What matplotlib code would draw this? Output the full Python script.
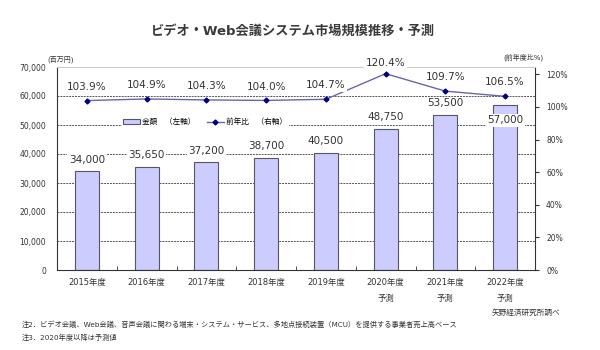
import matplotlib
matplotlib.use("Agg")
import matplotlib.pyplot as plt
import numpy as np

plt.rcParams['font.family'] = ['DejaVu Sans', 'Noto Sans CJK JP']

categories = ["2015年度", "2016年度", "2017年度", "2018年度", "2019年度",
              "2020年度\n予測", "2021年度\n予測", "2022年度\n予測"]
amounts = [34000, 35650, 37200, 38700, 40500, 48750, 53500, 57000]
yoy = [103.9, 104.9, 104.3, 104.0, 104.7, 120.4, 109.7, 106.5]
left_ticks = [0, 10000, 20000, 30000, 40000, 50000, 60000, 70000]
right_ticks = [0, 20, 40, 60, 80, 100, 120]

fig = plt.figure(figsize=(6, 3.5), dpi=100)
ax = fig.add_axes([57/600, 80/350, 478/600, 203/350])
x = np.arange(len(categories))

ax.set_xlim(-0.5, len(categories) - 0.5)
ax.set_ylim(0, 70000)
for v in left_ticks[1:-1]:
    ax.axhline(v, color='#555555', lw=0.7, ls=(0, (2, 1)), zorder=1)

bars = ax.bar(x, amounts, width=0.4, color='#CCCCFF', edgecolor='#555566',
              linewidth=0.8, zorder=2, label='金額　（左軸）')

ax.set_yticks(left_ticks)
ax.set_yticklabels([f"{v:,}" for v in left_ticks], fontsize=5.5, color='#333333')
ax.tick_params(axis='y', length=0, pad=8)
ax.set_xticks(x)
ax.set_xticklabels(categories, fontsize=6, color='#333333', linespacing=1.9)
ax.tick_params(axis='x', which='major', length=0, pad=6)
ax.set_xticks(np.arange(0.5, len(categories) - 0.5), minor=True)
ax.tick_params(axis='x', which='minor', length=3, direction='in', color='#333333')
for s in ['left', 'bottom', 'right']:
    ax.spines[s].set_color('#333333')
    ax.spines[s].set_linewidth(0.8)
ax.spines['top'].set_color('#cccccc')

for i, v in enumerate(amounts):
    if i == len(amounts) - 1:
        ypos = v - 5300
    else:
        ypos = v + 4000
    ax.text(i, ypos, f"{v:,}", ha='center', va='center', fontsize=7.5,
            color='#333333', zorder=6,
            bbox=dict(boxstyle='square,pad=0.15', fc='white', ec='none'))

ax2 = ax.twinx()
ax2.set_ylim(0, 124.5)
ln, = ax2.plot(x, yoy, color='#6666AA', lw=1.0, marker='D', markersize=2.5,
               markerfacecolor='#000080', markeredgecolor='#000080', zorder=5,
               label='前年比　（右軸）')
ax2.set_yticks(right_ticks)
ax2.set_yticklabels([f"{v}%" for v in right_ticks], fontsize=5.5, color='#333333')
ax2.tick_params(axis='y', length=3, direction='out', pad=5, color='#333333')
for s in ax2.spines.values():
    s.set_visible(False)

for i, v in enumerate(yoy):
    ax2.text(i, min(v + 8.5, 127), f"{v:.1f}%", ha='center', va='center', fontsize=7.5,
             color='#333333', zorder=6, clip_on=False,
             bbox=dict(boxstyle='square,pad=0.15', fc='white', ec='none'))

leg = ax2.legend(handles=[bars, ln], loc='center', bbox_to_anchor=(0.31, 0.73),
                 ncol=2, frameon=True, fontsize=5.5, handlelength=2.2,
                 columnspacing=1.5, handletextpad=0.3, borderpad=0.2)
leg.get_frame().set_edgecolor('none')
leg.get_frame().set_facecolor('white')
leg.get_frame().set_alpha(1)

fig.text(293/600, 1 - 31/350, "ビデオ・Web会議システム市場規模推移・予測", ha='center',
         va='center', fontsize=9.5, color='#3a3a3a', fontweight='bold')
fig.text(61/600, 1 - 59/350, "(百万円)", ha='center', va='center', fontsize=5, color='#333333')
fig.text(523/600, 1 - 57/350, "(前年度比%)", ha='center', va='center', fontsize=5, color='#333333')
fig.text(526/600, 1 - 312/350, "矢野経済研究所調べ", ha='center', va='center', fontsize=5.5, color='#333333')
fig.text(22/600, 1 - 324/350,
         "注2．ビデオ会議、Web会議、音声会議に関わる端末・システム・サービス、多地点接続装置（MCU）を提供する事業者売上高ベース",
         ha='left', va='center', fontsize=5.2, color='#333333')
fig.text(22/600, 1 - 337/350, "注3．2020年度以降は予測値", ha='left', va='center',
         fontsize=5.2, color='#333333')

fig.savefig("out.png", dpi=100, facecolor='white')
